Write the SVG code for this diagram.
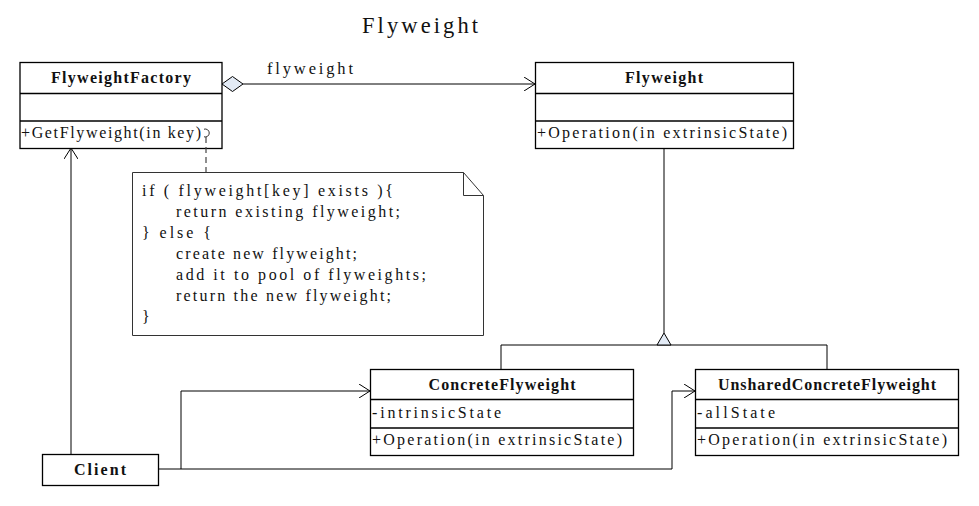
<svg xmlns="http://www.w3.org/2000/svg" width="979" height="506" viewBox="0 0 979 506">
<defs>
<style>
text{font-family:"Liberation Serif","DejaVu Serif",serif;fill:#111;font-size:16px}
.name{font-weight:bold;text-anchor:middle}
.box{fill:#fff;stroke:#000;stroke-width:1.3}
.div{stroke:#000;stroke-width:1.3}
.ln{fill:none;stroke:#000;stroke-width:1}
.note{fill:#fff;stroke:#333;stroke-width:1}
</style>
<marker id="open" viewBox="0 0 12 14" refX="11" refY="7" markerWidth="12" markerHeight="14" markerUnits="userSpaceOnUse" orient="auto">
<polyline points="0,0 11,7 0,14" fill="none" stroke="#000" stroke-width="1"/>
</marker>
</defs>
<text x="362" y="33" textLength="116" lengthAdjust="spacing" style="font-size:22.5px">Flyweight</text>

<g id="FlyweightFactory">
<rect class="box" x="20" y="62.5" width="202" height="86"/>
<line class="div" x1="20" y1="93.5" x2="222" y2="93.5"/>
<line class="div" x1="20" y1="121" x2="222" y2="121"/>
<text class="name" x="121" y="83" textLength="140" lengthAdjust="spacing">FlyweightFactory</text>
<text x="21" y="138" textLength="180" lengthAdjust="spacing">+GetFlyweight(in key)</text>
</g>

<g id="Flyweight">
<rect class="box" x="535.5" y="62.5" width="258" height="86"/>
<line class="div" x1="535.5" y1="93.5" x2="793.5" y2="93.5"/>
<line class="div" x1="535.5" y1="121" x2="793.5" y2="121"/>
<text class="name" x="664" y="83" textLength="78" lengthAdjust="spacing">Flyweight</text>
<text x="537" y="138" textLength="250" lengthAdjust="spacing">+Operation(in extrinsicState)</text>
</g>

<g id="note">
<path class="note" d="M132.5,172.5 H463.5 L483.5,195.5 V335.5 H132.5 Z"/>
<polyline points="463.5,172.5 463.5,195.5 483.5,195.5" fill="none" stroke="#333" stroke-width="1"/>
<text x="142" y="196" textLength="251" lengthAdjust="spacing">if ( flyweight[key] exists ){</text>
<text x="176" y="217" textLength="224" lengthAdjust="spacing">return existing flyweight;</text>
<text x="142" y="238" textLength="69" lengthAdjust="spacing">} else {</text>
<text x="176" y="259" textLength="181" lengthAdjust="spacing">create new flyweight;</text>
<text x="176" y="280" textLength="250" lengthAdjust="spacing">add it to pool of flyweights;</text>
<text x="176" y="301" textLength="215" lengthAdjust="spacing">return the new flyweight;</text>
<text x="142" y="322">}</text>
</g>

<g id="ConcreteFlyweight">
<rect class="box" x="370.5" y="369.5" width="263" height="86"/>
<line class="div" x1="370.5" y1="399.5" x2="633.5" y2="399.5"/>
<line class="div" x1="370.5" y1="428" x2="633.5" y2="428"/>
<text class="name" x="502" y="390" textLength="147" lengthAdjust="spacing">ConcreteFlyweight</text>
<text x="372" y="418" textLength="129" lengthAdjust="spacing">-intrinsicState</text>
<text x="372" y="445" textLength="250" lengthAdjust="spacing">+Operation(in extrinsicState)</text>
</g>

<g id="UnsharedConcreteFlyweight">
<rect class="box" x="695.5" y="369.5" width="263" height="86"/>
<line class="div" x1="695.5" y1="399.5" x2="958.5" y2="399.5"/>
<line class="div" x1="695.5" y1="428" x2="958.5" y2="428"/>
<text class="name" x="827" y="390" textLength="218" lengthAdjust="spacing">UnsharedConcreteFlyweight</text>
<text x="697" y="418" textLength="78" lengthAdjust="spacing">-allState</text>
<text x="697" y="445" textLength="250" lengthAdjust="spacing">+Operation(in extrinsicState)</text>
</g>

<g id="Client">
<rect class="box" x="42.5" y="454.5" width="116" height="31"/>
<text class="name" x="100" y="475" textLength="52" lengthAdjust="spacing">Client</text>
</g>

<g id="connectors">
<line class="ln" x1="243" y1="84" x2="535" y2="84" marker-end="url(#open)"/>
<polygon points="222,84 232.5,76.5 243,84 232.5,91.5" fill="#e3ebf6" stroke="#000" stroke-width="1"/>
<text x="267" y="74" textLength="86" lengthAdjust="spacing" style="font-size:16.5px">flyweight</text>
<line class="ln" x1="664" y1="148" x2="664" y2="333"/>
<polyline class="ln" points="501,369 501,345 827,345 827,369"/>
<polygon points="664,333 657,345 671,345" fill="#e3ebf6" stroke="#000" stroke-width="1"/>
<line class="ln" x1="71" y1="454" x2="71" y2="148" marker-end="url(#open)"/>
<polyline class="ln" points="158,469 181,469 181,391 370,391" marker-end="url(#open)"/>
<polyline class="ln" points="181,469 672,469 672,391 695,391" marker-end="url(#open)"/>
<path d="M204,129.2 A4,4 0 1 1 204,136.8" fill="none" stroke="#333" stroke-width="1"/>
<line x1="206" y1="137" x2="206" y2="172" stroke="#444" stroke-width="1.2" stroke-dasharray="6,4"/>
</g>
</svg>
